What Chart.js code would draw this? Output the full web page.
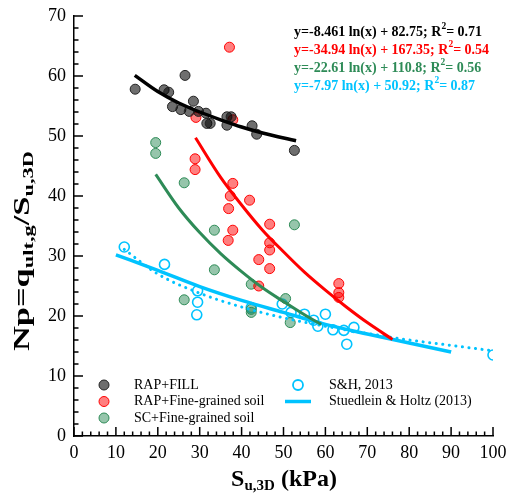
<!DOCTYPE html>
<html>
<head>
<meta charset="utf-8">
<script src="https://cdn.jsdelivr.net/npm/chart.js@4.4.0/dist/chart.umd.min.js"></script>
<style>
  body { margin: 0; background: #fff; }
  canvas { display: block; }
</style>
</head>
<body>
<canvas id="canvas" width="507" height="493"></canvas>
<script>
let fillX = [14.6, 26.5, 21.5, 22.6, 23.5, 25.5, 28.5, 27.5, 29.7, 31.5, 31.7, 32.5, 36.5, 37.5, 36.5, 42.5, 43.6, 52.6];
let fillY = [57.8, 60.1, 57.7, 57.3, 54.9, 54.4, 55.8, 54.1, 54.1, 53.8, 52.1, 52.1, 53.2, 53.2, 51.8, 51.7, 50.3, 47.6];

let rapX = [37.1, 29.1, 37.9, 28.9, 28.9, 37.9, 37.3, 41.9, 36.9, 46.7, 37.9, 36.8, 46.7, 46.7, 44.1, 46.7, 44.1, 63.2, 63.2, 63.2];
let rapY = [64.8, 53.1, 52.7, 46.2, 44.4, 42.1, 40.0, 39.3, 37.9, 35.3, 34.3, 32.6, 32.2, 31.0, 29.4, 27.9, 25.0, 25.4, 23.9, 23.1];

let scX = [19.5, 19.5, 26.3, 52.6, 33.5, 33.5, 26.3, 42.3, 42.3, 42.3, 50.5, 51.6];
let scY = [48.9, 47.1, 42.2, 35.2, 34.3, 27.7, 22.7, 25.3, 21.1, 20.6, 22.9, 18.9];

let shX = [12.0, 21.6, 29.5, 29.5, 29.3, 42.3, 49.7, 51.8, 55.0, 57.2, 58.2, 60.0, 61.8, 64.4, 66.8, 65.1, 100];
let shY = [31.5, 28.6, 24.2, 22.3, 20.2, 21.4, 22.0, 20.6, 20.3, 19.3, 18.3, 20.3, 17.7, 17.6, 18.1, 15.3, 13.5];

// fitted curves
let fillFitX = [14.5, 20, 25, 30, 35, 40, 45, 53];
let fillFitY = [60.1, 57.4, 55.5, 54.0, 52.7, 51.5, 50.5, 49.2];

let rapFitX = [29, 35, 40, 45, 50, 55, 60, 65, 70, 76];
let rapFitY = [49.7, 43.1, 38.5, 34.3, 30.7, 27.3, 24.3, 21.5, 18.9, 16.1];

let scFitX = [19.5, 25, 30, 35, 40, 45, 50, 55, 59];
let scFitY = [43.6, 38.0, 33.9, 30.4, 27.4, 24.7, 22.4, 20.2, 18.6];

let shFitX = [12, 20, 30, 40, 50, 60, 70, 80, 90, 100];
let shFitY = [31.1, 27.0, 23.8, 21.5, 19.7, 18.3, 17.1, 16.0, 15.1, 14.2];

let studX = [10, 20, 30, 40, 50, 60, 70, 80, 90];
let studY = [30.2, 27.6, 24.9, 22.6, 20.6, 18.6, 17.0, 15.5, 14.0];

let equations = [
  ['y=-8.461 ln(x) + 82.75; R', '= 0.71'],
  ['y=-34.94 ln(x) + 167.35; R', '= 0.54'],
  ['y=-22.61 ln(x) + 110.8; R', '= 0.56'],
  ['y=-7.97 ln(x) + 50.92; R', '= 0.87']
];

let serif = '"Liberation Serif", "Times New Roman", serif';
let cyan = 'rgb(0,195,255)';
let green = 'rgb(46,139,87)';
let eqColors = ['#000', '#ff0000', green, cyan];

function pts(xs, ys) {
  return xs.map((x, i) => ({ x: x, y: ys[i] }));
}

function dots(label, xs, ys, fill, border) {
  return {
    label: label, data: pts(xs, ys), order: 2,
    pointRadius: 5, pointHoverRadius: 5,
    pointBackgroundColor: fill, pointBorderColor: border, pointBorderWidth: 1
  };
}

function curve(xs, ys, color, width, extra) {
  return Object.assign({
    data: pts(xs, ys), order: 1, showLine: true,
    borderColor: color, borderWidth: width, pointRadius: 0,
    cubicInterpolationMode: 'monotone', fill: false
  }, extra || {});
}

// draw text pieces with sub/superscripts; stretch = target length or 0
function richText(ctx, parts, x, y, align, stretch) {
  let total = 0;
  parts.forEach(p => {
    ctx.font = 'bold ' + p.size + 'px ' + serif;
    p.w = ctx.measureText(p.t).width;
    total += p.w;
  });
  let k = stretch ? stretch / total : 1;
  ctx.save();
  ctx.translate(x, y);
  ctx.scale(k, 1);
  let cx = align === 'center' ? -total / 2 : 0;
  parts.forEach(p => {
    ctx.font = 'bold ' + p.size + 'px ' + serif;
    ctx.fillText(p.t, cx, p.dy || 0);
    cx += p.w;
  });
  ctx.restore();
}

let decor = {
  id: 'decor',
  afterDraw(chart) {
    let ctx = chart.ctx;
    let xs = chart.scales.x, ys = chart.scales.y;
    let area = chart.chartArea;
    ctx.save();

    // inward tick marks
    ctx.strokeStyle = '#000';
    ctx.lineWidth = 1.5;
    ctx.beginPath();
    for (let v = 0; v <= 100; v += 2) {
      let px = xs.getPixelForValue(v);
      let len = v % 10 === 0 ? 9 : 4.5;
      ctx.moveTo(px, area.bottom);
      ctx.lineTo(px, area.bottom - len);
    }
    for (let v = 0; v <= 70; v += 2) {
      let py = ys.getPixelForValue(v);
      let len = v % 10 === 0 ? 9 : 4.5;
      ctx.moveTo(area.left, py);
      ctx.lineTo(area.left + len, py);
    }
    ctx.stroke();

    // equations
    ctx.textBaseline = 'middle';
    ctx.textAlign = 'left';
    equations.forEach((eq, i) => {
      ctx.fillStyle = eqColors[i];
      let y = 32 + i * 18;
      richText(ctx, [
        { t: eq[0], size: 14 },
        { t: '2', size: 9.5, dy: -5 },
        { t: eq[1], size: 14 }
      ], 294, y, 'left');
    });

    // legend
    ctx.font = '14px ' + serif;
    ctx.fillStyle = '#000';
    let rows = [
      ['RAP+FILL', 'rgba(0,0,0,0.57)', '#222'],
      ['RAP+Fine-grained soil', 'rgba(255,0,0,0.5)', '#ff0000'],
      ['SC+Fine-grained soil', 'rgba(46,139,87,0.5)', green]
    ];
    rows.forEach((r, i) => {
      let y = 385 + i * 16.5;
      ctx.beginPath();
      ctx.arc(104, y, 5, 0, Math.PI * 2);
      ctx.fillStyle = r[1];
      ctx.fill();
      ctx.strokeStyle = r[2];
      ctx.lineWidth = 1;
      ctx.stroke();
      ctx.fillStyle = '#000';
      ctx.fillText(r[0], 134, y);
    });
    ctx.beginPath();
    ctx.arc(298, 385, 5, 0, Math.PI * 2);
    ctx.strokeStyle = cyan;
    ctx.lineWidth = 1.8;
    ctx.stroke();
    ctx.fillText('S&H, 2013', 329, 385);
    ctx.beginPath();
    ctx.moveTo(285, 401.5);
    ctx.lineTo(311, 401.5);
    ctx.lineWidth = 3.5;
    ctx.stroke();
    ctx.fillText('Stuedlein & Holtz (2013)', 329, 401.5);

    // axis titles
    ctx.fillStyle = '#000';
    ctx.textBaseline = 'alphabetic';
    richText(ctx, [
      { t: 'S', size: 24 },
      { t: 'u,3D', size: 15, dy: 4 },
      { t: ' (kPa)', size: 24 }
    ], 284, 486, 'center');

    ctx.translate(29, 251);
    ctx.rotate(-Math.PI / 2);
    richText(ctx, [
      { t: 'Np=q', size: 23 },
      { t: 'ult,g', size: 15, dy: 4 },
      { t: '/S', size: 23 },
      { t: 'u,3D', size: 15, dy: 4 }
    ], 0, 0, 'center', 200);

    ctx.restore();
  }
};

let options = {
  type: 'scatter',
  data: {
    datasets: [
      dots('RAP+FILL', fillX, fillY, 'rgba(0,0,0,0.57)', '#222'),
      dots('RAP+Fine-grained soil', rapX, rapY, 'rgba(255,0,0,0.5)', '#ff0000'),
      dots('SC+Fine-grained soil', scX, scY, 'rgba(46,139,87,0.5)', green),
      {
        label: 'S&H, 2013', data: pts(shX, shY), order: 2,
        pointRadius: 5, pointHoverRadius: 5,
        pointBackgroundColor: 'rgba(0,0,0,0)', pointBorderColor: cyan, pointBorderWidth: 1.6
      },
      curve(fillFitX, fillFitY, '#000', 3.5),
      curve(rapFitX, rapFitY, '#ff0000', 3),
      curve(scFitX, scFitY, green, 3),
      curve(shFitX, shFitY, cyan, 3, { borderDash: [0.1, 6.5], borderCapStyle: 'round' }),
      curve(studX, studY, cyan, 3.5)
    ]
  },
  options: {
    responsive: false,
    animation: false,
    events: [],
    layout: { autoPadding: false, padding: { top: 16, right: 14, left: 0, bottom: 0 } },
    plugins: { legend: { display: false }, tooltip: { enabled: false } },
    scales: {
      x: {
        type: 'linear', min: 0, max: 100,
        afterFit: s => { s.height = 57; s.paddingLeft = 0; s.paddingRight = 0; },
        grid: { display: false, drawTicks: false },
        border: { display: true, color: '#000', width: 1.5 },
        ticks: { stepSize: 10, padding: 6, color: '#000', font: { family: serif, size: 18 } }
      },
      y: {
        type: 'linear', min: 0, max: 70,
        afterFit: s => { s.width = 74; s.paddingTop = 0; s.paddingBottom = 0; },
        grid: { display: false, drawTicks: false },
        border: { display: true, color: '#000', width: 1.5 },
        ticks: { stepSize: 10, padding: 8, color: '#000', font: { family: serif, size: 18 } }
      }
    }
  },
  plugins: [decor]
};

let chart = new Chart(document.getElementById('canvas'), options);
</script>
</body>
</html>
